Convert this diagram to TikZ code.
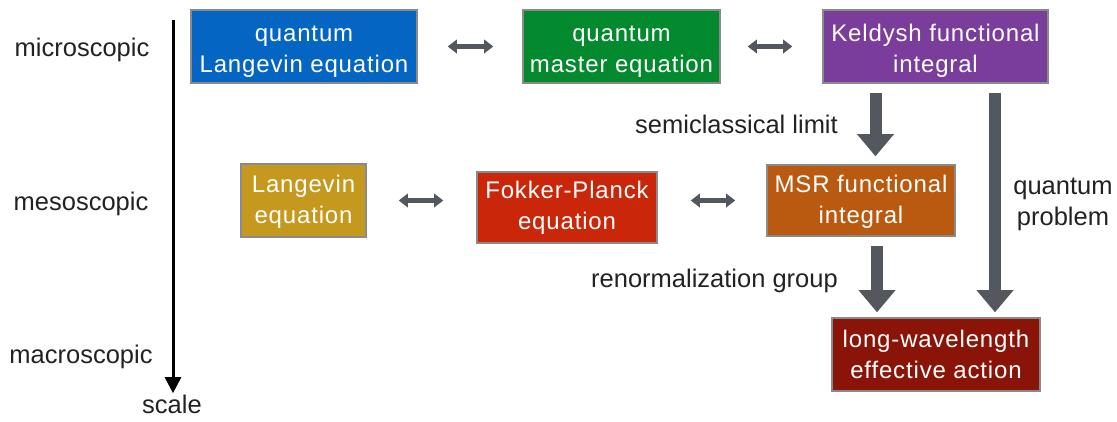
\documentclass[tikz,border=0pt]{standalone}
\usepackage{fontspec}
\setmainfont{Liberation Sans}
\usetikzlibrary{arrows.meta,shadows}
\definecolor{cblue}{HTML}{0565C2}
\definecolor{cgreen}{HTML}{038A2E}
\definecolor{cpurple}{HTML}{7B3D9B}
\definecolor{cgold}{HTML}{C5981E}
\definecolor{cred}{HTML}{C9260A}
\definecolor{corange}{HTML}{BA5A10}
\definecolor{cdark}{HTML}{8A1408}
\definecolor{agray}{HTML}{53575E}
\definecolor{bgray}{HTML}{8A8A8A}
\definecolor{ink}{HTML}{222222}
\newcommand\twoln[3]{\smash{\raisebox{-#1}{#2}}\\\smash{\raisebox{-#1}{#3}}}
\tikzset{
  box/.style={draw=bgray, line width=1.6pt, text=white, align=center, inner sep=0pt,
    font=\fontsize{24}{31}\selectfont\addfontfeatures{LetterSpace=3.5},
    drop shadow={shadow xshift=1.2pt, shadow yshift=-1.2pt, opacity=0.25}},
  lab/.style={text=ink, font=\fontsize{25.5}{31}\selectfont, inner sep=0pt, align=center},
  bigarrow/.style={draw=agray, line width=12pt, -{Triangle[width=37pt,length=22pt,line width=0pt]}},
  dblarrow/.style={draw=agray, line width=4.5pt, {Triangle[width=14pt,length=9pt,line width=0pt]}-{Triangle[width=14pt,length=9pt,line width=0pt]}},
}
\begin{document}
\begin{tikzpicture}[x=1pt,y=-1pt]
\useasboundingbox (0,0) rectangle (1117,421);
% scale axis
\coordinate (axtop) at (173,20);
\coordinate (axbot) at (173,393);
\draw[line width=3pt, -{Triangle[width=17pt,length=16pt,line width=0pt]}] (axtop) -- (axbot);
\node[lab, anchor=base] (micro) at (82,56) {microscopic};
\node[lab, anchor=base] (meso) at (81,210) {mesoscopic};
\node[lab, anchor=base] (macro) at (81,363) {macroscopic};
\node[lab, anchor=base] (scale) at (172,413) {scale};
% boxes
\node[box, fill=cblue, minimum width=226pt, minimum height=73pt] (b1) at (304,46.5) {\twoln{10pt}{quantum}{Langevin equation}};
\node[box, fill=cgreen, minimum width=197pt, minimum height=73pt] (b2) at (621.5,46.5) {\twoln{10pt}{quantum}{master equation}};
\node[box, fill=cpurple, minimum width=225pt, minimum height=73pt] (b3) at (935.5,46.5) {\twoln{10pt}{Keldysh functional}{integral}};
\node[box, fill=cgold, minimum width=125pt, minimum height=73pt] (lg) at (303.5,200.5) {\twoln{7pt}{Langevin}{equation}};
\node[box, fill=cred, minimum width=180pt, minimum height=71pt] (fp) at (567,207.5) {\twoln{6.5pt}{Fokker-Planck}{equation}};
\node[box, fill=corange, minimum width=188pt, minimum height=71pt] (msr) at (861,200.5) {\twoln{7.5pt}{MSR functional}{integral}};
\node[box, fill=cdark, minimum width=208pt, minimum height=73pt] (lw) at (936,354.5) {\twoln{8pt}{long-wavelength}{effective action}};
% double arrows
\draw[dblarrow, shorten <=30pt, shorten >=29pt] (b1.east) -- (b2.west);
\draw[dblarrow, shorten <=27pt, shorten >=30pt] (b2.east) -- (b3.west);
\draw[dblarrow, shorten <=32pt, shorten >=33pt] (lg.east) -- (lg.east -| fp.west);
\draw[dblarrow, shorten <=33pt, shorten >=31pt] (msr.west -| fp.east) -- (msr.west);
% big arrows
\draw[bigarrow, shorten <=9pt, shorten >=8pt] ([xshift=-60pt]b3.south) -- ([xshift=14.5pt]msr.north);
\draw[bigarrow, shorten <=9pt, shorten >=5pt] ([xshift=59.5pt]b3.south) -- ([xshift=59pt]lw.north);
\draw[bigarrow, shorten <=9pt, shorten >=5pt] ([xshift=16pt]msr.south) -- ([xshift=-59pt]lw.north);
% labels
\node[lab, anchor=base east] (semi) at (838,133) {semiclassical limit};
\node[lab, anchor=base east] (renorm) at (838,287) {renormalization group};
\node[lab, anchor=base] (qprob) at (1063,225) {\twoln{0pt}{quantum}{problem}};
\end{tikzpicture}
\end{document}
